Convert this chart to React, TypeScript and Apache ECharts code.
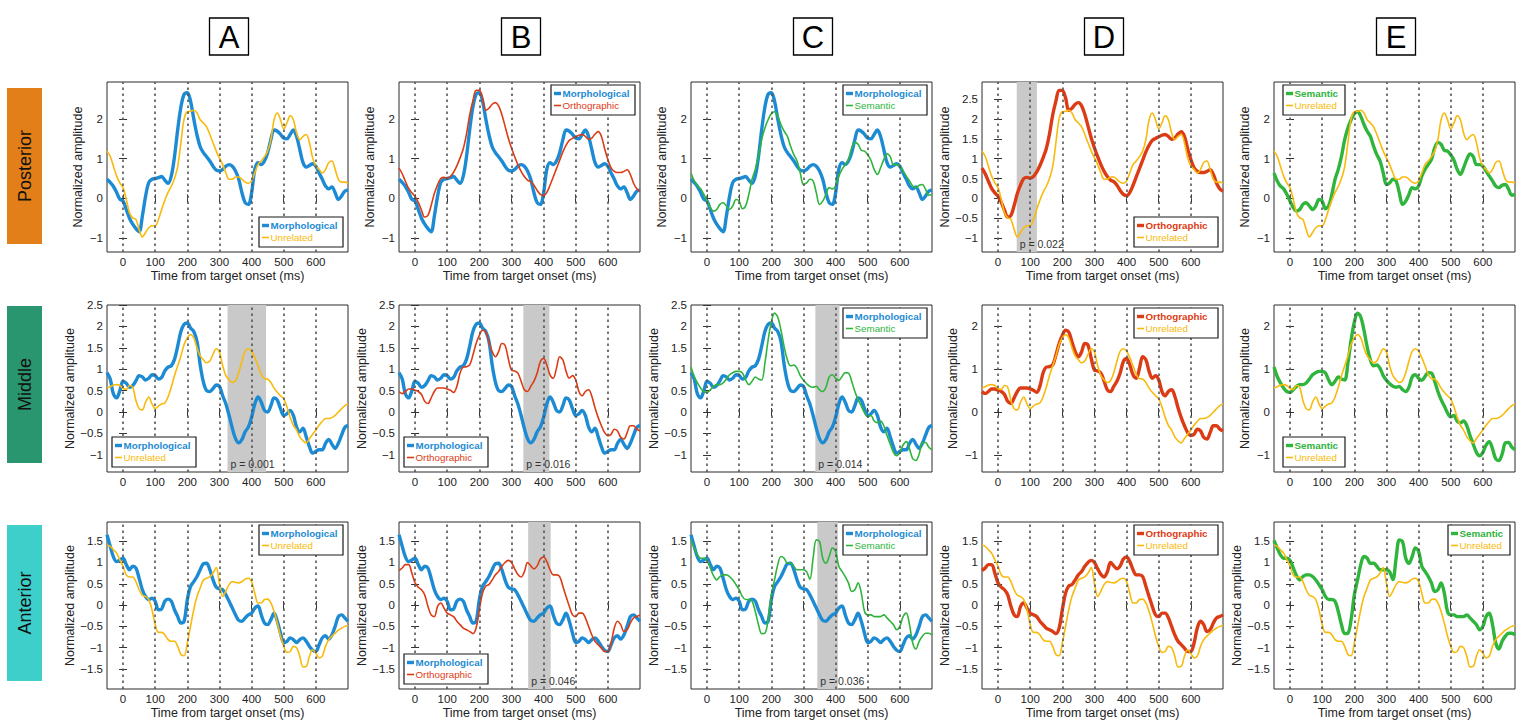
import { useEffect, useRef } from "react";
import * as echarts from "echarts";

// ---------- data (time in ms, normalized amplitude) ----------
const TIMES = [
  -50, -40, -30, -20, -10, 0,
  10, 20, 30, 40, 50, 60, 70, 80, 90, 100,
  110, 120, 130, 140, 150, 160, 170, 180, 190, 200,
  210, 220, 230, 240, 250, 260, 270, 280, 290, 300,
  310, 320, 330, 340, 350, 360, 370, 380, 390, 400,
  410, 420, 430, 440, 450, 460, 470, 480, 490, 500,
  510, 520, 530, 540, 550, 560, 570, 580, 590, 600,
  610, 620, 630, 640, 650, 660, 670, 680, 690, 700,
];

const MORPH_POST = [
  0.48, 0.4, 0.3, 0.15, -0.02, -0.07,
  -0.28, -0.5, -0.65, -0.76, -0.84, -0.45, 0.05, 0.4, 0.48, 0.5,
  0.52, 0.55, 0.46, 0.38, 0.56, 1.05, 1.73, 2.3, 2.62, 2.66,
  2.45, 2.0, 1.6, 1.3, 1.15, 1.05, 0.94, 0.81, 0.71, 0.69,
  0.73, 0.81, 0.85, 0.81, 0.69, 0.48, 0.14, -0.11, -0.15, 0.14,
  0.73, 0.9, 0.85, 0.94, 1.15, 1.48, 1.72, 1.69, 1.61, 1.52,
  1.5, 1.61, 1.72, 1.56, 1.23, 0.9, 0.79, 0.83, 0.87, 0.81,
  0.64, 0.48, 0.31, 0.24, 0.29, 0.14, -0.03, 0.06, 0.18, 0.21,
];
const UNREL_POST = [
  1.19, 1.06, 0.81, 0.56, 0.39, 0.27,
  -0.03, -0.36, -0.49, -0.53, -0.78, -0.97, -0.86, -0.74, -0.69, -0.69,
  -0.53, -0.28, -0.05, 0.15, 0.3, 0.5, 0.8, 1.4, 2.0, 2.18,
  2.19, 2.22, 2.15, 1.98, 1.9, 1.8, 1.61, 1.4, 1.19, 1.02,
  0.85, 0.64, 0.48, 0.48, 0.54, 0.54, 0.48, 0.41, 0.38, 0.44,
  0.64, 0.85, 0.94, 1.05, 1.19, 1.48, 1.98, 2.15, 1.98, 1.75,
  1.9, 2.08, 1.98, 1.65, 1.48, 1.56, 1.61, 1.4, 1.02, 0.81,
  0.73, 0.64, 0.73, 0.9, 0.94, 0.73, 0.48, 0.41, 0.41, 0.39,
];
const ORTH_POST = [
  0.76, 0.62, 0.43, 0.25, 0.14, 0.05,
  -0.1, -0.3, -0.47, -0.43, -0.18, 0.12, 0.34, 0.5, 0.53, 0.51,
  0.55, 0.66, 0.82, 1.02, 1.25, 1.62, 2.1, 2.45, 2.72, 2.72,
  2.53, 2.22, 2.27, 2.37, 2.41, 2.33, 2.11, 1.82, 1.52, 1.27,
  1.05, 0.85, 0.68, 0.55, 0.46, 0.42, 0.33, 0.2, 0.1, 0.07,
  0.15, 0.33, 0.54, 0.75, 0.96, 1.17, 1.34, 1.46, 1.51, 1.55,
  1.59, 1.61, 1.56, 1.49, 1.52, 1.62, 1.68, 1.56, 1.25, 0.98,
  0.77, 0.68, 0.65, 0.65, 0.68, 0.72, 0.6, 0.38, 0.24, 0.18,
];
const SEM_POST = [
  0.64, 0.44, 0.31, 0.24, 0.1, -0.07,
  -0.23, -0.32, -0.28, -0.15, -0.11, -0.19, -0.28, -0.19, -0.03, -0.07,
  -0.26, -0.19, 0.1, 0.48, 0.73, 1.06, 1.48, 1.77, 1.98, 2.13,
  2.18, 2.07, 1.86, 1.69, 1.56, 1.31, 1.1, 0.94, 0.64, 0.35,
  0.39, 0.48, 0.44, 0.14, -0.15, -0.07, 0.1, 0.27, 0.24, 0.31,
  0.56, 0.73, 0.85, 0.98, 1.27, 1.41, 1.36, 1.21, 1.19, 1.1,
  0.96, 0.73, 0.6, 0.77, 0.98, 1.12, 1.05, 0.85, 0.85, 0.81,
  0.69, 0.56, 0.44, 0.31, 0.27, 0.33, 0.35, 0.23, 0.08, 0.1,
];

const MORPH_MID = [
  0.92, 0.77, 0.42, 0.33, 0.5, 0.72,
  0.67, 0.58, 0.62, 0.73, 0.85, 0.82, 0.75, 0.79, 0.87, 0.85,
  0.77, 0.81, 0.96, 1.05, 1.08, 1.23, 1.54, 1.88, 2.05, 2.08,
  1.96, 1.88, 1.65, 1.1, 0.7, 0.5, 0.48, 0.55, 0.63, 0.6,
  0.38, 0.19, -0.08, -0.38, -0.62, -0.72, -0.64, -0.46, -0.35, -0.12,
  0.19, 0.35, 0.23, 0.04, 0.0, 0.15, 0.33, 0.28, 0.08, -0.08,
  -0.04, 0.04, -0.08, -0.35, -0.46, -0.38, -0.58, -0.81, -0.96, -0.92,
  -0.88, -0.88, -0.73, -0.64, -0.75, -0.85, -0.73, -0.54, -0.36, -0.31,
];
const UNREL_MID = [
  0.56, 0.59, 0.63, 0.64, 0.62, 0.55,
  0.53, 0.62, 0.58, 0.27, 0.08, 0.05, 0.23, 0.35, 0.19, 0.08,
  0.14, 0.19, 0.21, 0.35, 0.58, 0.85, 1.08, 1.31, 1.58, 1.73,
  1.81, 1.73, 1.5, 1.31, 1.22, 1.15, 1.19, 1.35, 1.48, 1.4,
  1.08, 0.85, 0.75, 0.69, 0.73, 0.92, 1.19, 1.42, 1.48, 1.42,
  1.27, 1.08, 0.88, 0.78, 0.77, 0.69, 0.56, 0.46, 0.38, 0.31,
  0.12, -0.12, -0.31, -0.42, -0.58, -0.67, -0.72, -0.62, -0.52, -0.42,
  -0.31, -0.22, -0.15, -0.15, -0.13, -0.08, 0.0, 0.08, 0.15, 0.19,
];
const ORTH_MID = [
  0.48, 0.43, 0.48, 0.54, 0.54, 0.51,
  0.48, 0.41, 0.25, 0.2, 0.33, 0.48, 0.56, 0.56, 0.56, 0.54,
  0.51, 0.46, 0.6, 0.91, 1.05, 1.06, 1.1, 1.33, 1.6, 1.79,
  1.91, 1.87, 1.64, 1.41, 1.29, 1.41, 1.6, 1.56, 1.25, 0.98,
  0.96, 0.91, 0.72, 0.52, 0.48, 0.6, 0.72, 0.91, 1.18, 1.25,
  1.1, 0.87, 0.79, 1.02, 1.29, 1.22, 0.95, 0.79, 0.85, 0.75,
  0.48, 0.38, 0.48, 0.52, 0.37, 0.1, -0.13, -0.32, -0.48, -0.55,
  -0.52, -0.4, -0.44, -0.59, -0.63, -0.48, -0.32, -0.32, -0.4, -0.44,
];
const SEM_MID = [
  1.05, 0.83, 0.68, 0.56, 0.48, 0.46,
  0.52, 0.6, 0.64, 0.64, 0.68, 0.77, 0.87, 0.92, 0.95, 0.95,
  0.91, 0.75, 0.64, 0.72, 0.82, 0.77, 0.75, 1.14, 1.68, 2.1,
  2.31, 2.22, 1.91, 1.52, 1.22, 1.08, 1.1, 1.02, 0.85, 0.74,
  0.66, 0.6, 0.58, 0.6, 0.52, 0.48, 0.58, 0.82, 0.87, 0.79,
  0.74, 0.83, 0.92, 0.91, 0.72, 0.48, 0.29, 0.14, -0.02, -0.11,
  -0.08, -0.21, -0.25, -0.21, -0.32, -0.55, -0.75, -0.94, -1.02, -0.94,
  -0.77, -0.69, -0.86, -1.09, -1.13, -0.98, -0.72, -0.71, -0.82, -0.88,
];

const MORPH_ANT = [
  1.65, 1.38, 1.13, 1.02, 1.06, 1.1,
  0.95, 0.83, 0.91, 0.87, 0.63, 0.36, 0.2, 0.13, 0.16, 0.09,
  -0.11, -0.09, 0.09, 0.14, 0.09, -0.11, -0.27, -0.42, -0.38, 0.13,
  0.44, 0.55, 0.67, 0.83, 0.97, 0.98, 0.83, 0.59, 0.42, 0.38,
  0.36, 0.24, 0.09, -0.07, -0.23, -0.36, -0.38, -0.3, -0.23, -0.19,
  -0.07, -0.02, -0.23, -0.42, -0.46, -0.34, -0.19, -0.38, -0.66, -0.88,
  -0.85, -0.77, -0.81, -0.88, -0.81, -0.77, -0.85, -0.97, -1.06, -1.09,
  -0.93, -0.77, -0.72, -0.8, -0.7, -0.5, -0.27, -0.23, -0.3, -0.38,
];
const UNREL_ANT = [
  1.41, 1.38, 1.3, 1.22, 1.06, 0.91,
  0.71, 0.66, 0.66, 0.55, 0.36, 0.23, 0.2, 0.13, -0.11, -0.46,
  -0.64, -0.64, -0.7, -0.81, -0.85, -0.85, -0.97, -1.16, -1.19, -0.89,
  -0.5, -0.11, 0.2, 0.4, 0.59, 0.63, 0.66, 0.75, 0.88, 0.5,
  0.2, 0.33, 0.48, 0.55, 0.53, 0.52, 0.55, 0.61, 0.63, 0.55,
  0.28, 0.05, 0.05, 0.13, 0.14, 0.05, -0.15, -0.42, -0.73, -0.97,
  -1.11, -1.09, -0.97, -1.0, -1.2, -1.45, -1.44, -1.2, -1.05, -1.13,
  -1.24, -1.2, -0.97, -0.81, -0.73, -0.66, -0.59, -0.54, -0.5, -0.48,
];
const ORTH_ANT = [
  0.81, 0.87, 0.95, 0.95, 0.75, 0.52,
  0.42, 0.36, 0.24, -0.03, -0.23, -0.27, -0.03, 0.05, -0.07, -0.19,
  -0.23, -0.27, -0.38, -0.46, -0.54, -0.58, -0.62, -0.67, -0.54, -0.11,
  0.28, 0.45, 0.48, 0.59, 0.71, 0.79, 0.91, 1.0, 1.05, 1.0,
  0.85, 0.72, 0.66, 0.78, 1.0, 0.92, 0.85, 0.92, 1.08, 1.13,
  1.02, 0.83, 0.71, 0.71, 0.67, 0.44, 0.2, -0.03, -0.23, -0.27,
  -0.19, -0.19, -0.3, -0.5, -0.7, -0.85, -0.93, -1.01, -1.09, -1.09,
  -0.89, -0.54, -0.38, -0.46, -0.62, -0.58, -0.42, -0.3, -0.27, -0.23,
];
const SEM_ANT = [
  1.52, 1.34, 1.18, 1.1, 1.1, 1.05,
  0.87, 0.69, 0.59, 0.67, 0.71, 0.71, 0.67, 0.59, 0.48, 0.36,
  0.2, 0.13, 0.13, 0.09, -0.15, -0.46, -0.67, -0.66, -0.34, 0.24,
  0.59, 0.95, 1.14, 1.1, 0.98, 0.98, 0.91, 0.83, 0.83, 0.83,
  0.78, 0.6, 1.1, 1.53, 1.49, 1.1, 0.98, 1.14, 1.34, 1.26,
  0.91, 0.79, 0.67, 0.52, 0.32, 0.36, 0.52, 0.28, -0.15, -0.23,
  -0.23, -0.27, -0.27, -0.27, -0.23, -0.3, -0.38, -0.46, -0.58, -0.5,
  -0.27, -0.19, -0.46, -0.89, -1.03, -0.85, -0.73, -0.66, -0.66, -0.7,
];

const X_TICKS = [0, 100, 200, 300, 400, 500, 600];
const Y_TICKS_INT = [-1, 0, 1, 2];
const Y_TICKS_HALF = [-1, -0.5, 0, 0.5, 1, 1.5, 2, 2.5];
const Y_TICKS_ANT = [-1.5, -1, -0.5, 0, 0.5, 1, 1.5];

const COLUMN_LETTERS = ["A", "B", "C", "D", "E"];
const ROW_NAMES = ["Posterior", "Middle", "Anterior"];
const CONDITION_NAMES: Record<string, string> = {
  morph: "Morphological",
  unrel: "Unrelated",
  orth: "Orthographic",
  sem: "Semantic",
};
// [thick, thin] per column
const COLUMN_PAIRS = [
  ["morph", "unrel"],
  ["morph", "orth"],
  ["morph", "sem"],
  ["orth", "unrel"],
  ["sem", "unrel"],
];
const SERIES_BY_ROW: Record<string, number[]>[] = [
  { morph: MORPH_POST, unrel: UNREL_POST, orth: ORTH_POST, sem: SEM_POST },
  { morph: MORPH_MID, unrel: UNREL_MID, orth: ORTH_MID, sem: SEM_MID },
  { morph: MORPH_ANT, unrel: UNREL_ANT, orth: ORTH_ANT, sem: SEM_ANT },
];
// significant windows
const SHADE_ROWS = [1, 1, 1, 2, 2, 0];
const SHADE_COLS = [0, 1, 2, 1, 2, 3];
const SHADE_FROM = [325, 337, 337, 352, 343, 58];
const SHADE_TO = [445, 418, 412, 422, 407, 121];
const SHADE_P = ["p = 0.001", "p = 0.016", "p = 0.014", "p = 0.046", "p = 0.036", "p = 0.022"];

// ---------- layout / style ----------
const W = 1522;
const H = 724;
const FONT = "'Liberation Sans', Arial, Helvetica, sans-serif";
const COLORS: Record<string, string> = {
  morph: "#1d8bd3",
  unrel: "#f8ba0c",
  orth: "#dc3c15",
  sem: "#2fb43c",
};
const GRID_LEFTS = [107, 399, 691, 982, 1274];
const GRID_W = 241;
const ROW_TOPS = [82, 305, 522];
const ROW_HEIGHTS = [170, 167, 167];
const Y_RANGES = [
  [-1.35, 2.93],
  [-1.4, 2.5],
  [-1.97, 1.95],
];
const LEGEND_CORNERS = [
  ["br", "tr", "tr", "br", "tl"],
  ["bl", "bl", "tr", "tr", "bl"],
  ["tr", "bl", "tr", "tr", "tr"],
];
const LEGEND_BOX_W: Record<string, number> = { morph: 84, orth: 84, sem: 62 };
const ROW_BOX = [
  { y: 88, h: 156, color: "#e27f19" },
  { y: 306, h: 157, color: "#2a9670" },
  { y: 525, h: 156, color: "#3ecfca" },
];

const fmtNum = (v: number) => (v < 0 ? "\u2212" + String(Math.abs(v)) : String(v));

function yTicksFor(row: number, col: number) {
  if (row === 2) return Y_TICKS_ANT;
  if (row === 0) return col === 3 ? Y_TICKS_HALF : Y_TICKS_INT;
  return col <= 2 ? Y_TICKS_HALF : Y_TICKS_INT;
}

function legendGraphic(x: number, y: number, bw: number, thick: string, thin: string) {
  const bh = 30;
  return {
    type: "group",
    x,
    y,
    z: 100,
    silent: true,
    children: [
      {
        type: "rect",
        shape: { x: 0, y: 0, width: bw, height: bh },
        style: { fill: "#ffffff", stroke: "#1a1a1a", lineWidth: 1.2 },
        z: 100,
      },
      {
        type: "line",
        shape: { x1: 3, y1: 8.5, x2: 10, y2: 8.5 },
        style: { stroke: COLORS[thick], lineWidth: 3.4 },
        z: 101,
      },
      {
        type: "text",
        x: 11.5,
        y: 8.5,
        style: {
          text: CONDITION_NAMES[thick],
          fontSize: 9.8,
          fontWeight: "bold",
          fontFamily: FONT,
          fill: COLORS[thick],
          verticalAlign: "middle",
          align: "left",
        },
        z: 101,
      },
      {
        type: "line",
        shape: { x1: 3, y1: 20.5, x2: 10, y2: 20.5 },
        style: { stroke: COLORS[thin], lineWidth: 1.6 },
        z: 101,
      },
      {
        type: "text",
        x: 11.5,
        y: 20.5,
        style: {
          text: CONDITION_NAMES[thin],
          fontSize: 9.8,
          fontFamily: FONT,
          fill: COLORS[thin],
          verticalAlign: "middle",
          align: "left",
        },
        z: 101,
      },
    ],
  };
}

function buildOption() {
  const grid: any[] = [];
  const xAxis: any[] = [];
  const yAxis: any[] = [];
  const series: any[] = [];
  const graphic: any[] = [];

  for (let r = 0; r < 3; r++) {
    for (let c = 0; c < 5; c++) {
      const gi = r * 5 + c;
      const left = GRID_LEFTS[c];
      const top = ROW_TOPS[r];
      const h = ROW_HEIGHTS[r];
      grid.push({
        left,
        top,
        width: GRID_W,
        height: h,
        show: true,
        borderColor: "#2a2a2a",
        borderWidth: 1,
        backgroundColor: "#ffffff",
        containLabel: false,
      });
      const yt = yTicksFor(r, c);
      xAxis.push({
        type: "value",
        gridIndex: gi,
        min: -50,
        max: 700,
        axisLine: { show: false },
        splitLine: { show: false },
        axisTick: { show: true, inside: true, length: 4, customValues: X_TICKS, lineStyle: { color: "#333" } },
        axisLabel: {
          customValues: X_TICKS,
          margin: 4,
          fontSize: 11.5,
          fontFamily: FONT,
          color: "#222",
          formatter: (v: number) => fmtNum(v),
        },
        name: r === 1 ? "" : "Time from target onset (ms)",
        nameLocation: "middle",
        nameGap: 17,
        nameTextStyle: { fontSize: 12.5, fontFamily: FONT, color: "#222" },
      });
      xAxis.push({
        type: "value",
        gridIndex: gi,
        position: "top",
        min: -50,
        max: 700,
        axisLine: { show: false },
        splitLine: { show: false },
        axisTick: { show: true, inside: true, length: 4, customValues: X_TICKS, lineStyle: { color: "#333" } },
        axisLabel: { show: false },
      });
      yAxis.push({
        type: "value",
        gridIndex: gi,
        min: Y_RANGES[r][0],
        max: Y_RANGES[r][1],
        axisLine: { show: false },
        splitLine: { show: false },
        axisTick: { show: true, inside: true, length: 4, customValues: yt, lineStyle: { color: "#333" } },
        axisLabel: {
          customValues: yt,
          margin: 4,
          fontSize: 11.5,
          fontFamily: FONT,
          color: "#222",
          formatter: (v: number) => fmtNum(v),
        },
        name: "Normalized amplitude",
        nameLocation: "middle",
        nameGap: 23,
        nameTextStyle: { fontSize: 12.5, fontFamily: FONT, color: "#222" },
      });
      yAxis.push({
        type: "value",
        gridIndex: gi,
        position: "right",
        min: Y_RANGES[r][0],
        max: Y_RANGES[r][1],
        axisLine: { show: false },
        splitLine: { show: false },
        axisTick: { show: true, inside: true, length: 4, customValues: yt, lineStyle: { color: "#333" } },
        axisLabel: { show: false },
      });

      const xi = gi * 2;
      const yi = gi * 2;

      const shadeIdx = SHADE_ROWS.findIndex((rr, k) => rr === r && SHADE_COLS[k] === c);
      const deco: any = {
        type: "line",
        xAxisIndex: xi,
        yAxisIndex: yi,
        data: [[-50, 0]],
        symbol: "none",
        silent: true,
        lineStyle: { opacity: 0 },
        z: 1,
        markLine: {
          silent: true,
          symbol: ["none", "none"],
          label: { show: false },
          lineStyle: { type: [2.5, 3.5], color: "#555", width: 1.6 },
          data: X_TICKS.map((v) => ({ xAxis: v })),
        },
      };
      if (shadeIdx >= 0) {
        deco.markArea = {
          silent: true,
          itemStyle: { color: "#c9c9c9", opacity: 1 },
          label: {
            show: true,
            position: "insideBottomLeft",
            distance: 3,
            formatter: SHADE_P[shadeIdx],
            fontSize: 10.5,
            fontFamily: FONT,
            color: "#333",
          },
          data: [[{ xAxis: SHADE_FROM[shadeIdx] }, { xAxis: SHADE_TO[shadeIdx] }]],
        };
      }
      series.push(deco);

      const [thick, thin] = COLUMN_PAIRS[c];
      const rowData = SERIES_BY_ROW[r];
      series.push({
        type: "line",
        name: CONDITION_NAMES[thick],
        xAxisIndex: xi,
        yAxisIndex: yi,
        data: TIMES.map((t, i) => [t, rowData[thick][i]]),
        symbol: "none",
        smooth: 0.35,
        silent: true,
        z: 3,
        lineStyle: { color: COLORS[thick], width: 3.4 },
        itemStyle: { color: COLORS[thick] },
      });
      series.push({
        type: "line",
        name: CONDITION_NAMES[thin],
        xAxisIndex: xi,
        yAxisIndex: yi,
        data: TIMES.map((t, i) => [t, rowData[thin][i]]),
        symbol: "none",
        smooth: 0.35,
        silent: true,
        z: 4,
        lineStyle: { color: COLORS[thin], width: 1.6 },
        itemStyle: { color: COLORS[thin] },
      });

      const corner = LEGEND_CORNERS[r][c];
      const bw = LEGEND_BOX_W[thick];
      const bh = 30;
      const gridRight = left + GRID_W;
      const gridBottom = top + h;
      const ly = corner[0] === "t" ? top + 3 : gridBottom - 5 - bh;
      const lx = corner[1] === "l" ? left + (c === 4 ? 9 : 5) : gridRight - 5 - bw;
      graphic.push(legendGraphic(lx, ly, bw, thick, thin));
    }
  }

  for (let c = 0; c < 5; c++) {
    const cx = GRID_LEFTS[c] + GRID_W / 2 + 2;
    graphic.push({
      type: "rect",
      shape: { x: cx - 20, y: 18, width: 39, height: 37 },
      style: { fill: "#ffffff", stroke: "#000", lineWidth: 1.3 },
      silent: true,
    });
    graphic.push({
      type: "text",
      x: cx - 0.5,
      y: 37,
      style: {
        text: COLUMN_LETTERS[c],
        fontSize: 31,
        fontFamily: FONT,
        fill: "#000",
        align: "center",
        verticalAlign: "middle",
      },
      silent: true,
    });
  }
  for (let r = 0; r < 3; r++) {
    const b = ROW_BOX[r];
    graphic.push({
      type: "rect",
      shape: { x: 7, y: b.y, width: 35, height: b.h },
      style: { fill: b.color },
      silent: true,
    });
    graphic.push({
      type: "text",
      x: 25,
      y: b.y + b.h / 2,
      rotation: Math.PI / 2,
      style: {
        text: ROW_NAMES[r],
        fontSize: 18,
        fontFamily: FONT,
        fill: "#111",
        align: "center",
        verticalAlign: "middle",
      },
      silent: true,
    });
  }

  return {
    animation: false,
    backgroundColor: "#ffffff",
    grid,
    xAxis,
    yAxis,
    series,
    graphic,
  };
}

export default function App() {
  const ref = useRef<HTMLDivElement>(null);
  useEffect(() => {
    if (!ref.current) return;
    const chart = echarts.init(ref.current, undefined, { renderer: "svg" });
    chart.setOption(buildOption() as any);
    return () => chart.dispose();
  }, []);
  return (
    <div
      ref={ref}
      style={{ position: "absolute", left: 0, top: 0, width: W, height: H, background: "#fff" }}
    />
  );
}
